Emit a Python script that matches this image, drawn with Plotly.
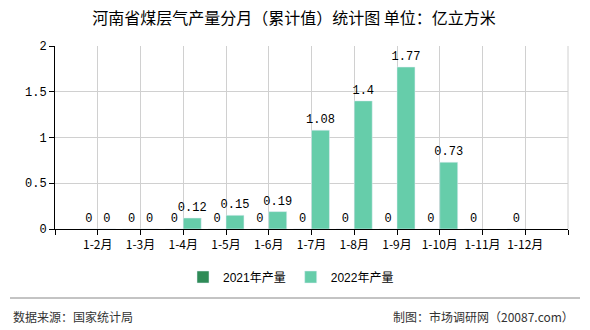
import plotly.graph_objects as go

categories = ["1-2月", "1-3月", "1-4月", "1-5月", "1-6月", "1-7月", "1-8月", "1-9月", "1-10月", "1-11月", "1-12月"]
values_2021 = [0, 0, 0, 0, 0, 0, 0, 0, 0, 0, 0]
values_2022 = [0, 0, 0.12, 0.15, 0.19, 1.08, 1.4, 1.77, 0.73, None, None]
y_ticks = [0, 0.5, 1, 1.5, 2]
y_tick_labels = ["0", "0.5", "1", "1.5", "2"]

W, H = 590, 330
L, R, T, B = 55, 22, 46, 101
PW, PH = W - L - R, H - T - B

def px_x(x):
    return (x - L) / PW

def px_y(y):
    return (H - B - y) / PH

FONT = "Noto Sans CJK SC, SimSun, sans-serif"
NUMFONT = "Liberation Mono, monospace"
xs = list(range(len(categories)))

def fmt(v):
    return "" if v is None else ("%g" % v)

fig = go.Figure()
fig.add_trace(go.Bar(
    x=xs, y=values_2021, name="2021年产量", marker_color="#2e8b57",
    text=[fmt(v) for v in values_2021], textposition="outside", constraintext="none",
    textfont=dict(size=12, color="#000", family=NUMFONT), cliponaxis=False,
))
fig.add_trace(go.Bar(
    x=xs, y=values_2022, name="2022年产量", marker_color="#66cdaa",
    text=[fmt(v) for v in values_2022], textposition="outside", constraintext="none",
    textfont=dict(size=12, color="#000", family=NUMFONT), cliponaxis=False,
))

fig.update_layout(
    width=W, height=H,
    margin=dict(l=L, r=R, t=T, b=B),
    paper_bgcolor="white", plot_bgcolor="white",
    font=dict(family=FONT, size=12, color="#000"),
    barmode="group", bargap=0.16, bargroupgap=0,
    title=dict(text="河南省煤层气产量分月（累计值）统计图 单位：亿立方米",
               xref="container", x=294 / W, xanchor="center", y=1 - 18.5 / H, yanchor="middle",
               font=dict(size=16, color="#000", family=FONT)),
    showlegend=True,
    legend=dict(orientation="h", x=px_x(291), xanchor="center", y=px_y(277), yanchor="middle",
                font=dict(size=12, color="#000", family="Liberation Sans, Noto Sans CJK SC, sans-serif"),
                itemwidth=30, traceorder="normal"),
    xaxis=dict(range=[-1, len(categories)], tickmode="array",
               tickvals=list(range(-1, len(categories) + 1)),
               ticktext=[""] + categories + [""],
               showgrid=True, gridcolor="#d0d0d0", gridwidth=1,
               showline=True, linecolor="#000", linewidth=1,
               ticks="outside", ticklen=5, tickcolor="#000",
               tickfont=dict(size=12, color="#000"), zeroline=False, fixedrange=True),
    yaxis=dict(range=[0, 2], tickmode="array", tickvals=y_ticks, ticktext=y_tick_labels,
               showgrid=True, gridcolor="#d0d0d0", gridwidth=1,
               showline=True, linecolor="#000", linewidth=1,
               ticks="outside", ticklen=5, tickcolor="#000",
               tickfont=dict(size=12, color="#000", family=NUMFONT), zeroline=False, fixedrange=True),
    shapes=[
        dict(type="line", xref="paper", yref="paper", x0=1, x1=1, y0=0, y1=1,
             line=dict(color="#d0d0d0", width=1)),
        dict(type="line", xref="paper", yref="paper", x0=px_x(10), x1=px_x(580),
             y0=px_y(298), y1=px_y(298), line=dict(color="#888", width=1)),
    ],
    annotations=[
        dict(text="数据来源：国家统计局", xref="paper", yref="paper", x=px_x(11), y=px_y(316),
             xanchor="left", yanchor="middle", showarrow=False, font=dict(size=12, color="#333")),
        dict(text="制图：市场调研网（20087.com）", xref="paper", yref="paper", x=px_x(576), y=px_y(316),
             xanchor="right", yanchor="middle", showarrow=False, font=dict(size=12, color="#333")),
    ],
)

fig.write_html("out.html")
